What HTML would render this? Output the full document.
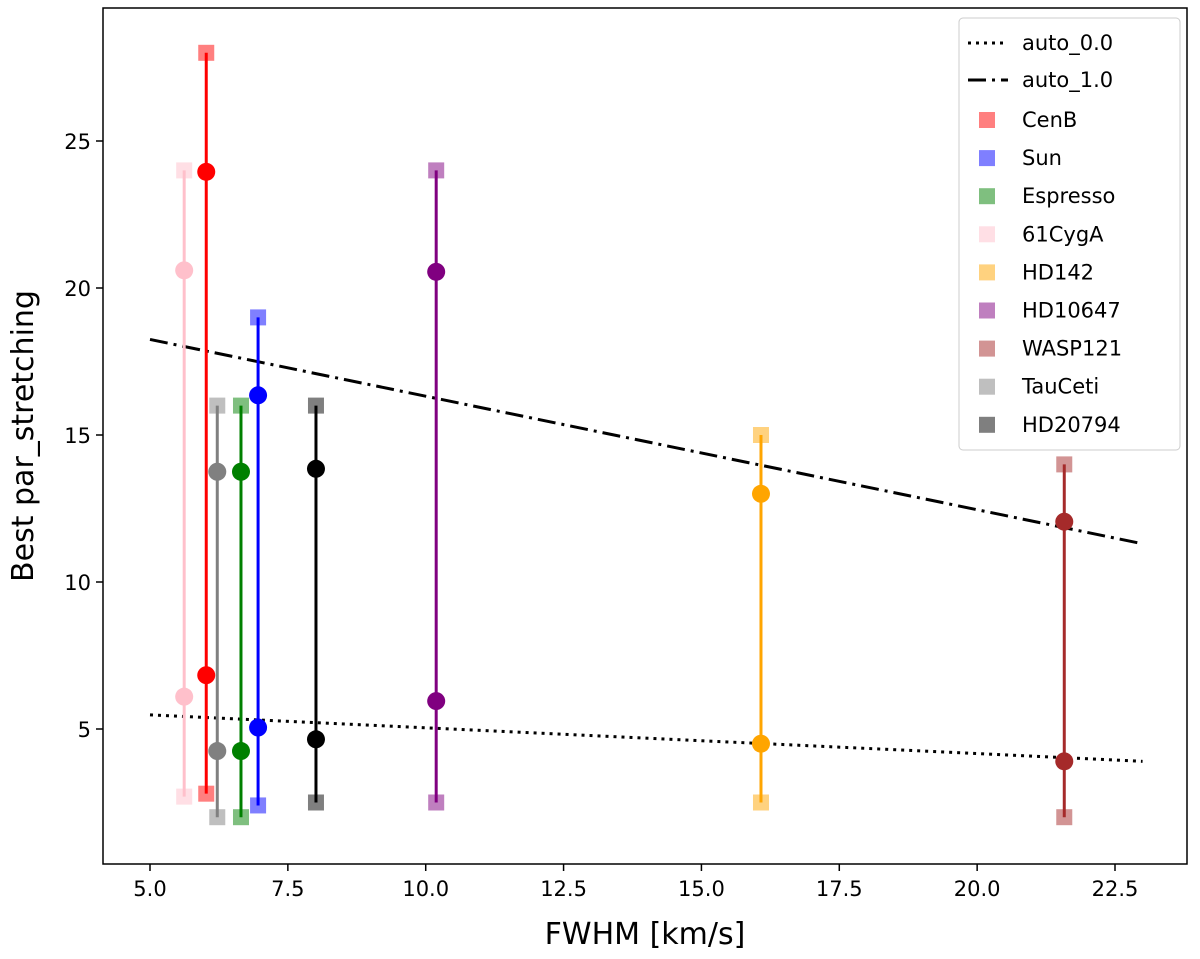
<!DOCTYPE html>
<html><head><meta charset="utf-8"><style>
body{margin:0;background:#fff}
svg text{font-family:"DejaVu Sans","Liberation Sans",sans-serif}
</style></head><body>
<svg id="c" width="1200" height="954" viewBox="0 0 1200 954"></svg>
<script>
const stars=["CenB","Sun","Espresso","61CygA","HD142","HD10647","WASP121","TauCeti","HD20794"];
const colors=["red","blue","green","pink","orange","purple","brown","gray","black"];
const fwhm=[6.02,6.96,6.65,5.62,16.08,10.19,21.58,6.22,8.01];
const sqHigh=[28,19,16,24,15,24,14,16,16];
const sqLow=[2.8,2.4,2.0,2.7,2.5,2.5,2.0,2.0,2.5];
const circHigh=[23.95,16.35,13.75,20.6,13.0,20.55,12.05,13.75,13.85];
const circLow=[6.83,5.05,4.25,6.1,4.5,5.95,3.9,4.25,4.65];
const auto0=[[5,5.48],[23,3.9]];
const auto1=[[5,18.25],[23,11.3]];
const xTicks=[5.0,7.5,10.0,12.5,15.0,17.5,20.0,22.5];
const yTicks=[5,10,15,20,25];

const L=103,R=1187,T=8,B=864;
const X=v=>150+(v-5)*55.143;
const Y=v=>729-(v-5)*29.4;
const svg=document.getElementById('c');
const NS='http://www.w3.org/2000/svg';
function mk(t,a,p){const e=document.createElementNS(NS,t);for(const k in a)e.setAttribute(k,a[k]);(p||svg).appendChild(e);return e;}

xTicks.forEach(v=>{
 const l=mk('line',{x1:X(v),x2:X(v),y1:B,y2:B+7,stroke:'#000','stroke-width':1.5});
 
 
 const t=mk('text',{x:X(v),y:B+32,'text-anchor':'middle','font-size':21});
 t.textContent=v.toFixed(1);
 
 
});
yTicks.forEach(v=>{
 const l=mk('line',{x1:L-7,x2:L,y1:Y(v),y2:Y(v),stroke:'#000','stroke-width':1.5});
 
 
 const t=mk('text',{x:L-12,y:Y(v)+8,'text-anchor':'end','font-size':21});
 t.textContent=v;
 
 
});

let a0=mk('line',{x1:X(auto0[0][0]),y1:Y(auto0[0][1]),x2:X(auto0[1][0]),y2:Y(auto0[1][1]),stroke:'#000','stroke-width':3,'stroke-dasharray':'3,5'});


let a1=mk('line',{x1:X(auto1[0][0]),y1:Y(auto1[0][1]),x2:X(auto1[1][0]),y2:Y(auto1[1][1]),stroke:'#000','stroke-width':3,'stroke-dasharray':'18,6,3,6'});



stars.forEach((s,i)=>{
 const g=mk('g',{});
 
 
 const x=X(fwhm[i]);
 [sqHigh[i],sqLow[i]].forEach(v=>{
  const r=mk('rect',{x:x-8,y:Y(v)-8,width:16,height:16,fill:colors[i],'fill-opacity':0.5},g);
  
  
 });
 const ln=mk('line',{x1:x,x2:x,y1:Y(sqLow[i]),y2:Y(sqHigh[i]),stroke:colors[i],'stroke-width':3},g);
 
 
 [circHigh[i],circLow[i]].forEach(v=>{
  const c=mk('circle',{cx:x,cy:Y(v),r:9,fill:colors[i]},g);
  
  
 });
});

let fr=mk('rect',{x:L,y:T,width:R-L,height:B-T,fill:'none',stroke:'#000','stroke-width':1.5});



let xl=mk('text',{x:(L+R)/2,y:944,'text-anchor':'middle','font-size':30});
xl.textContent='FWHM [km/s]';


let yl=mk('text',{x:0,y:0,'text-anchor':'middle','font-size':30,transform:`translate(33,${(T+B)/2}) rotate(-90)`});
yl.textContent='Best par_stretching';



const lg=mk('g',{});


mk('rect',{x:959,y:18,width:221,height:432,rx:4,fill:'#fff','fill-opacity':0.8,stroke:'#ccc','stroke-width':1},lg);
const ly0=43;
[['auto_0.0','3,5'],['auto_1.0','18,6,3,6']].forEach((e,k)=>{
 const y=ly0+k*37;
 const l=mk('line',{x1:968,x2:1008,y1:y,y2:y,stroke:'#000','stroke-width':3,'stroke-dasharray':e[1]},lg);
 
 
 const t=mk('text',{x:1022,y:y+7,'font-size':21},lg);
 t.textContent=e[0];
 
 
});
stars.forEach((s,i)=>{
 const y=120+i*38.1;
 const r=mk('rect',{x:979,y:y-8,width:16,height:16,fill:colors[i],'fill-opacity':0.5},lg);
 
 
 const t=mk('text',{x:1022,y:y+7,'font-size':21},lg);
 t.textContent=s;
 
 
});
</script>
</body></html>
